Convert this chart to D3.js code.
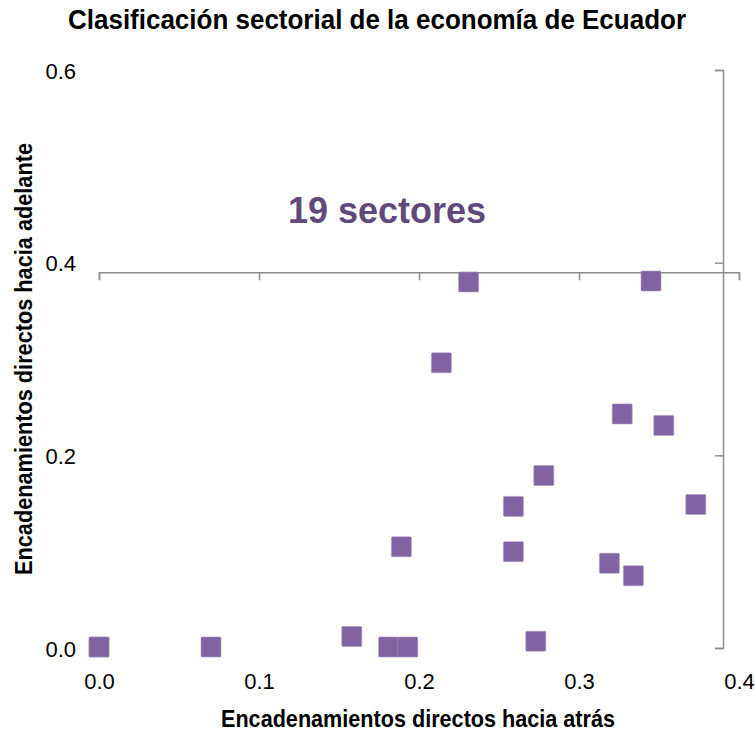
<!DOCTYPE html>
<html>
<head>
<meta charset="utf-8">
<script src="https://cdn.jsdelivr.net/npm/d3@7"></script>
<style>
  html, body { margin: 0; padding: 0; background: #ffffff; }
  svg { display: block; }
</style>
</head>
<body>
<svg id="chart" width="755" height="732"></svg>
<script>
// ---- data ----
const chartTitle = "Clasificación sectorial de la economía de Ecuador";
const xAxisTitle = "Encadenamientos directos hacia atrás";
const yAxisTitle = "Encadenamientos directos hacia adelante";
const annotation = "19 sectores";

// backward linkages (x) and forward linkages (y) for the 19 sectors
const backward = [0.000, 0.000, 0.070, 0.158, 0.181, 0.193, 0.189, 0.214, 0.231, 0.259, 0.259, 0.273, 0.278, 0.319, 0.327, 0.334, 0.345, 0.353, 0.373];
const forward  = [0.001, 0.001, 0.001, 0.012, 0.001, 0.001, 0.105, 0.296, 0.380, 0.147, 0.100, 0.007, 0.179, 0.088, 0.243, 0.075, 0.381, 0.231, 0.149];

const xTicks = [0.0, 0.1, 0.2, 0.3, 0.4];
const yTicks = [0.0, 0.2, 0.4, 0.6];
const xCross = 0.39;   // value where the vertical axis crosses
const yCross = 0.39;   // value where the horizontal axis crosses

// ---- drawing ----
const svg = d3.select("#chart");
const x = d3.scaleLinear().domain([0, 0.4]).range([99, 739]);
const y = d3.scaleLinear().domain([0, 0.6]).range([648, 70]);
const fmt = d3.format(".1f");

const axisColor = "#8e8e8e";
const narrow = "'Liberation Sans Narrow', 'Arial Narrow', 'Liberation Sans', Arial, sans-serif";
const regular = "'Liberation Sans', Arial, sans-serif";

function fitText(sel, target) {
  const node = sel.node();
  const w = node.getComputedTextLength();
  if (Math.abs(w - target) / target > 0.02) {
    sel.attr("textLength", target).attr("lengthAdjust", "spacingAndGlyphs");
  }
}

// horizontal axis line (crossing at y = 0.39), ticks pointing down
const gx = svg.append("g")
  .attr("transform", `translate(0,${y(yCross)})`)
  .call(d3.axisBottom(x).tickValues(xTicks).tickSize(8).tickSizeOuter(8).tickFormat(""));
gx.selectAll("path, line").attr("stroke", axisColor).attr("stroke-width", 1.5);

// vertical axis line (crossing at x = 0.39), ticks pointing left
const gy = svg.append("g")
  .attr("transform", `translate(${x(xCross)},0)`)
  .call(d3.axisLeft(y).tickValues(yTicks).tickSize(8).tickSizeOuter(8).tickFormat(""));
gy.selectAll("path, line").attr("stroke", axisColor).attr("stroke-width", 1.5);

// tick labels at the low ends
const gyl = svg.append("g")
  .attr("transform", "translate(76,1)")
  .call(d3.axisLeft(y).tickValues(yTicks).tickSize(0).tickPadding(0).tickFormat(fmt));
gyl.select(".domain").remove();
gyl.selectAll("text").attr("font-family", regular).attr("font-size", 22).attr("fill", "#000");

const gxl = svg.append("g")
  .attr("transform", "translate(0,673)")
  .call(d3.axisBottom(x).tickValues(xTicks).tickSize(0).tickPadding(0).tickFormat(fmt));
gxl.select(".domain").remove();
gxl.selectAll("text").attr("font-family", regular).attr("font-size", 22).attr("fill", "#000");

// points
const pts = backward.map((b, i) => ({ b, f: forward[i] }));
const s = 20;
svg.append("g").selectAll("rect")
  .data(pts)
  .join("rect")
  .attr("x", d => x(d.b) - s / 2)
  .attr("y", d => y(d.f) - s / 2)
  .attr("width", s)
  .attr("height", s)
  .attr("rx", 1)
  .attr("fill", "#8064A2")
  .attr("stroke", "#a897c0")
  .attr("stroke-width", 0.6);

// annotation
svg.append("text")
  .attr("x", 288).attr("y", 223)
  .attr("font-family", regular).attr("font-weight", "bold").attr("font-size", 36)
  .attr("fill", "#604A7B")
  .text(annotation);

// title
const t = svg.append("text")
  .attr("x", 377).attr("y", 29)
  .attr("text-anchor", "middle")
  .attr("font-family", narrow).attr("font-weight", "bold").attr("font-size", 28)
  .attr("fill", "#000")
  .text(chartTitle);
fitText(t, 618);

// x axis title
const xt = svg.append("text")
  .attr("x", 418).attr("y", 727)
  .attr("text-anchor", "middle")
  .attr("font-family", narrow).attr("font-weight", "bold").attr("font-size", 24)
  .attr("fill", "#000")
  .text(xAxisTitle);
fitText(xt, 394);

// y axis title
const yt = svg.append("text")
  .attr("transform", "translate(32,359) rotate(-90)")
  .attr("text-anchor", "middle")
  .attr("font-family", narrow).attr("font-weight", "bold").attr("font-size", 24)
  .attr("fill", "#000")
  .text(yAxisTitle);
fitText(yt, 432);
</script>
</body>
</html>
